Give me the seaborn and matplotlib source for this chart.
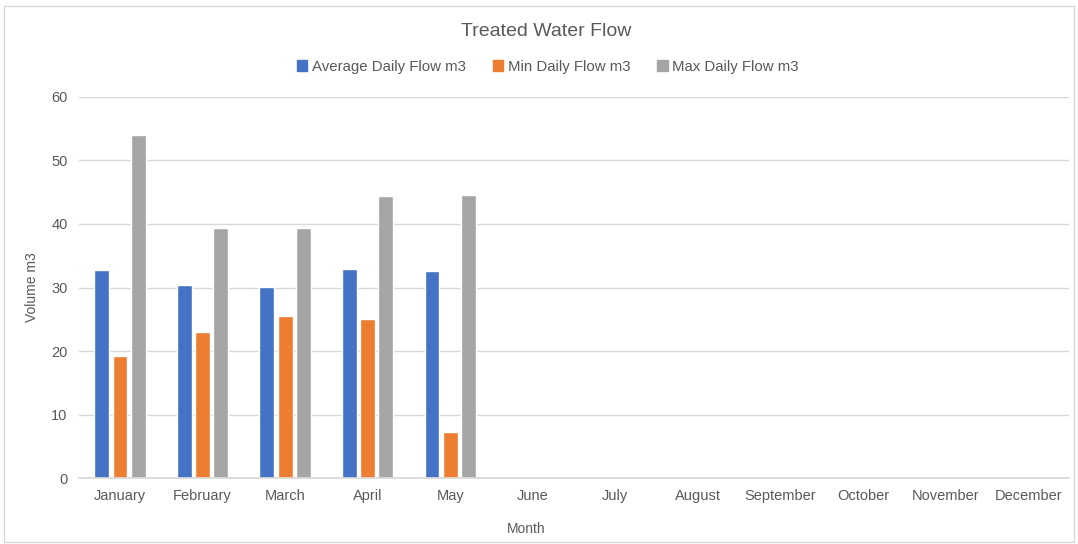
import pandas as pd
import matplotlib
matplotlib.use("Agg")
import matplotlib.pyplot as plt
import matplotlib.patches as patches
import seaborn as sns

# Data
months = ["January", "February", "March", "April", "May", "June", "July",
          "August", "September", "October", "November", "December"]
data_months = ["January", "February", "March", "April", "May"]
avg_flow = [32.8, 30.4, 30.1, 32.9, 32.6]
min_flow = [19.3, 23.0, 25.5, 25.0, 7.2]
max_flow = [54.0, 39.3, 39.3, 44.4, 44.5]
series = ["Average Daily Flow m3", "Min Daily Flow m3", "Max Daily Flow m3"]
colors = ["#4472C4", "#ED7D31", "#A5A5A5"]

rows = []
for name, vals in zip(series, [avg_flow, min_flow, max_flow]):
    for m, v in zip(data_months, vals):
        rows.append({"Month": m, "Series": name, "Value": v})
df = pd.DataFrame(rows)

sns.set_theme(style="white")
plt.rcParams["font.family"] = ["Liberation Sans", "DejaVu Sans"]

fig = plt.figure(figsize=(10.78, 5.44), dpi=100)
ax = fig.add_axes([0.073, 0.121, 0.919, 0.701])

sns.barplot(data=df, x="Month", y="Value", hue="Series", order=months,
            hue_order=series, palette=colors, width=0.66, gap=0.18,
            saturation=1, ax=ax, legend=False)

ax.set_ylim(0, 60)
ax.set_yticks(range(0, 61, 10))
ax.set_xlim(-0.5, 11.5)
ax.yaxis.grid(True, color="#d9d9d9", linewidth=1)
ax.set_axisbelow(True)
for s in ["top", "right", "left"]:
    ax.spines[s].set_visible(False)
ax.spines["bottom"].set_color("#d9d9d9")
ax.tick_params(axis="both", length=0, labelsize=10.5, colors="#595959", pad=8)

ax.set_xlabel("Month", fontsize=10, color="#595959")
ax.xaxis.set_label_coords(0.452, -0.114)
ax.set_ylabel("Volume m3", fontsize=10, color="#595959")
ax.yaxis.set_label_coords(-0.040, 0.5)

fig.text(0.507, 0.943, "Treated Water Flow", ha="center", va="center",
         fontsize=14, color="#595959")

handles = [patches.Patch(color=c, label=s) for c, s in zip(colors, series)]
fig.legend(handles=handles, loc="center", bbox_to_anchor=(0.508, 0.877),
           ncol=3, frameon=False, fontsize=10.8, labelcolor="#595959",
           handlelength=0.7, handleheight=0.7, handletextpad=0.3,
           columnspacing=1.8)

fig.patches.append(patches.Rectangle((0.004, 0.004), 0.992, 0.985,
                                     transform=fig.transFigure, fill=False,
                                     edgecolor="#d9d9d9", linewidth=1))

fig.savefig("out.png", dpi=100)
